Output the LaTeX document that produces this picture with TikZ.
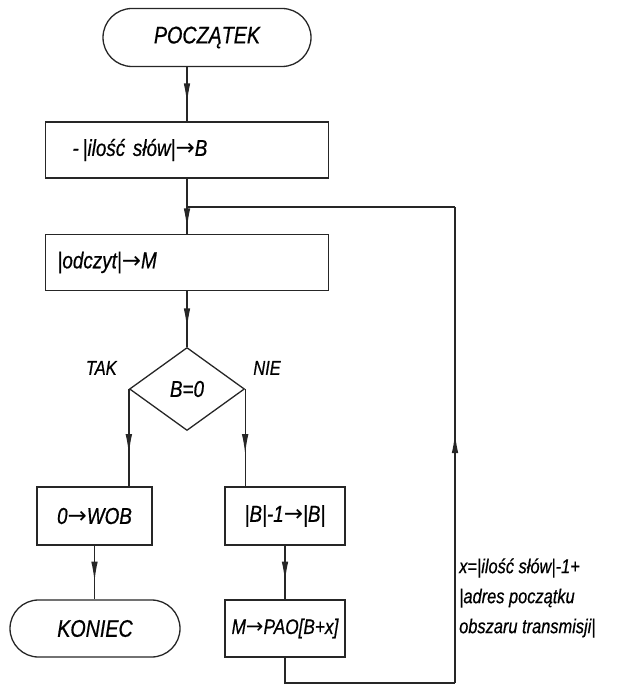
\documentclass[tikz,border=0pt]{standalone}
\usepackage{fontspec}
\setmainfont{Liberation Sans}[FakeStretch=0.82, FakeBold=0.6]
\newfontfamily\arrowfont{DejaVu Sans}
\newcommand{\gives}{{\arrowfont\upshape →}}
\usepackage{tikz}
\usetikzlibrary{shapes.misc,shapes.geometric,arrows.meta,positioning,calc,decorations.markings}

\tikzset{
  line/.style={draw=black!85, line width=1.3pt},
  flow/.style={line, decoration={markings,
      mark=at position #1 with {\arrow{Latex[length=20pt,width=6.5pt]}}},
    postaction={decorate}},
  flow/.default=0.67,
  term/.style={line, rounded rectangle, minimum height=58pt, inner sep=0pt,
    font=\fontsize{24}{28}\selectfont\itshape},
  proc/.style={line, rectangle, minimum height=56pt, inner sep=0pt,
    font=\fontsize{23}{27}\selectfont\itshape},
  cond/.style={line, diamond, aspect=1.4, inner sep=0pt, minimum width=115pt,
    minimum height=83pt, font=\fontsize{23}{27}\selectfont\itshape},
  lbl/.style={font=\fontsize{20}{30}\selectfont\itshape, inner sep=0pt}
}

\begin{document}
\begin{tikzpicture}[x=1pt, y=-1pt]
    \useasboundingbox (0,0) rectangle (620,687);
    % Start and first steps
    \node[term, minimum width=208pt] (start) at (207,37.5) {POCZĄTEK};
    \node[proc, text width=229pt, inner xsep=27pt, align=left] (count) at (187,150) {-\,|ilość słów|\gives B};
    \node[proc, text width=259pt, inner xsep=12pt, align=left] (read) at (187,262.5) {|odczyt|\gives M};
    \node[cond] (test) at (187,389) {B=0};
    \node[lbl, anchor=south east] (yes) at ($(test.west)+(-12,-14)$) {TAK};
    \node[lbl, anchor=south west] (no) at ($(test.east)+(8,-14)$) {NIE};
    % Branches
    \node[proc, minimum width=115pt, minimum height=58pt] (zero) at (94.5,516) {0\gives WOB};
    \node[term, minimum width=170pt, minimum height=57pt] (stop) at (95,628.5) {KONIEC};
    \node[proc, minimum width=120pt, minimum height=58pt] (dec) at (285,516) {|B|-1\gives|B|};
    \node[proc, minimum width=120pt, minimum height=57pt, font=\fontsize{21}{25}\selectfont\itshape] (store) at (285,628.5) {M\gives PAO[B+x]};
    % Loop corners
    \coordinate (join) at (187,207);
    \coordinate (loopbr) at (455,683);
    \coordinate (looptr) at (455,207);
    \node[lbl, anchor=west, align=left] (note) at (459,598)
      {x=|ilość słów|-1+\\|adres początku\\obszaru transmisji|};
    % Connectors
    \draw[flow] (start.south -| count.north) -- (count.north);
    \draw[line] (count.south) -- (join);
    \draw[flow=0.8] (join) -- (read.north);
    \draw[flow] (read.south) -- (test.north);
    \draw[flow] (test.west) -- (test.west |- zero.north);
    \draw[flow] (test.east) -- (test.east |- dec.north);
    \draw[flow] (zero.south) -- (stop.north -| zero.south);
    \draw[flow] (dec.south) -- (store.north);
    \draw[line] (store.south) |- (loopbr);
    \draw[flow=0.525] (loopbr) -- (looptr);
    \draw[line] (looptr) -- (join);
\end{tikzpicture}
\end{document}
